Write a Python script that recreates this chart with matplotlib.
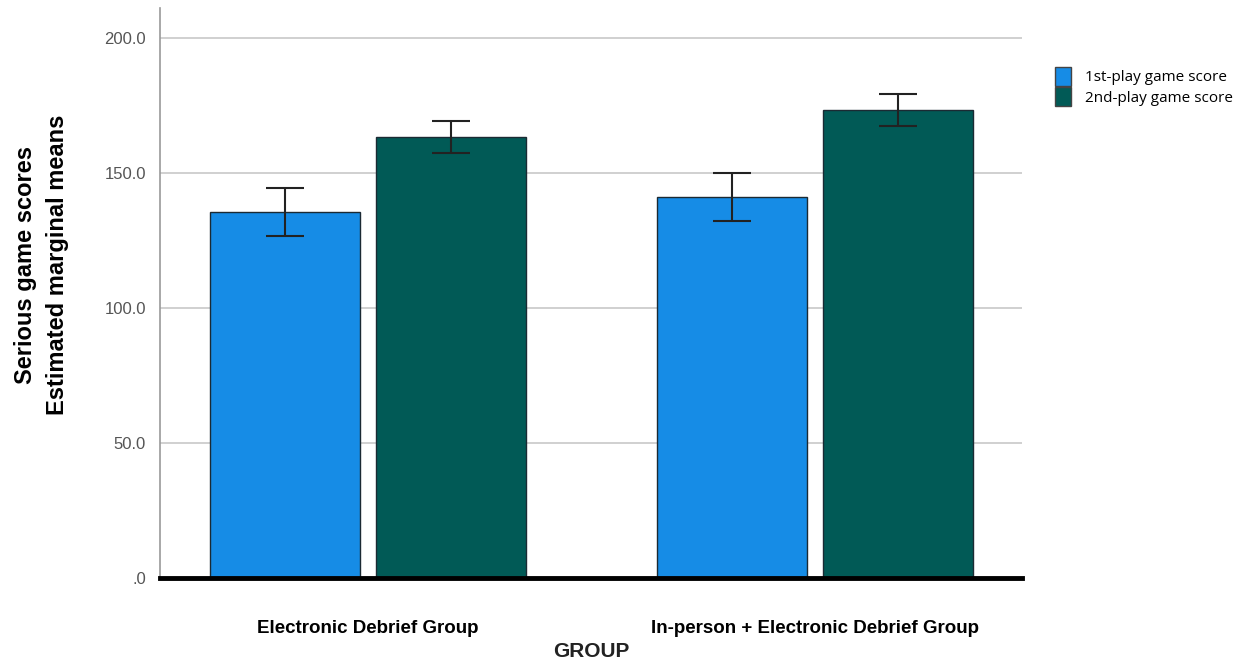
import numpy as np
import matplotlib.pyplot as plt
from matplotlib.ticker import FuncFormatter
from matplotlib.patches import Patch

# data
groups = ['Electronic Debrief Group', 'In-person + Electronic Debrief Group']
series = ['1st-play game score', '2nd-play game score']
first_play = [135.6, 141.1]
second_play = [163.3, 173.3]
first_err = [8.9, 8.9]
second_err = [5.8, 6.0]

colors = ['#168ce6', '#015a56']

fig = plt.figure(figsize=(12.45, 6.66), dpi=100)
ax = fig.add_axes([0.1285, 0.132, 0.6925, 0.856])

x = np.arange(len(groups))
width = 0.335
offset = 0.186

for vals, errs, xs, c in [(first_play, first_err, x - offset, colors[0]),
                          (second_play, second_err, x + offset, colors[1])]:
    ax.bar(xs, vals, width=width, color=c, edgecolor='#1b2a33', linewidth=1.0, zorder=2)
    ax.errorbar(xs, vals, yerr=errs, fmt='none', ecolor='#222222',
                elinewidth=1.5, capsize=14, capthick=1.5, zorder=3)

ax.set_xlim(-0.465, 1.463)
ax.set_ylim(0, 211)
ax.set_yticks([0, 50, 100, 150, 200])
ax.yaxis.set_major_formatter(FuncFormatter(lambda v, p: '.0' if v == 0 else f'{v:.1f}'))
ax.grid(axis='y', color='#c8c8c8', linewidth=1.2, zorder=0)
ax.set_axisbelow(True)

for s in ['top', 'right']:
    ax.spines[s].set_visible(False)
ax.spines['left'].set_color('#999999')
ax.spines['left'].set_linewidth(1.2)
ax.spines['bottom'].set_visible(False)
ax.axhline(0, color='black', linewidth=3.5, zorder=4, clip_on=False)

ax.tick_params(axis='y', length=0, pad=10, labelsize=12, labelcolor='#555555')
ax.tick_params(axis='x', length=0, pad=30)
for lab in ax.get_yticklabels():
    lab.set_family('Liberation Sans')

ax.set_xticks(x)
ax.set_xticklabels(groups, fontsize=13.5, fontweight='bold', family='Liberation Sans')

ax.set_xlabel('GROUP', fontsize=15, fontweight='bold', family='Liberation Sans',
              color='#222222', labelpad=4)
ax.set_ylabel('Serious game scores\nEstimated marginal means', fontsize=17,
              fontweight='bold', family='Liberation Sans', linespacing=1.55)
ax.yaxis.set_label_coords(-0.105, 0.55)

handles = [Patch(facecolor=c, edgecolor='#444444', label=l) for c, l in zip(colors, series)]
fig.legend(handles=handles, loc='upper left', bbox_to_anchor=(0.836, 0.92),
           frameon=False, handlelength=1.1, handleheight=1.5,
           handletextpad=0.9, labelspacing=0.1, prop={'family': 'Open Sans', 'size': 11})

fig.savefig('out.png', dpi=100)
